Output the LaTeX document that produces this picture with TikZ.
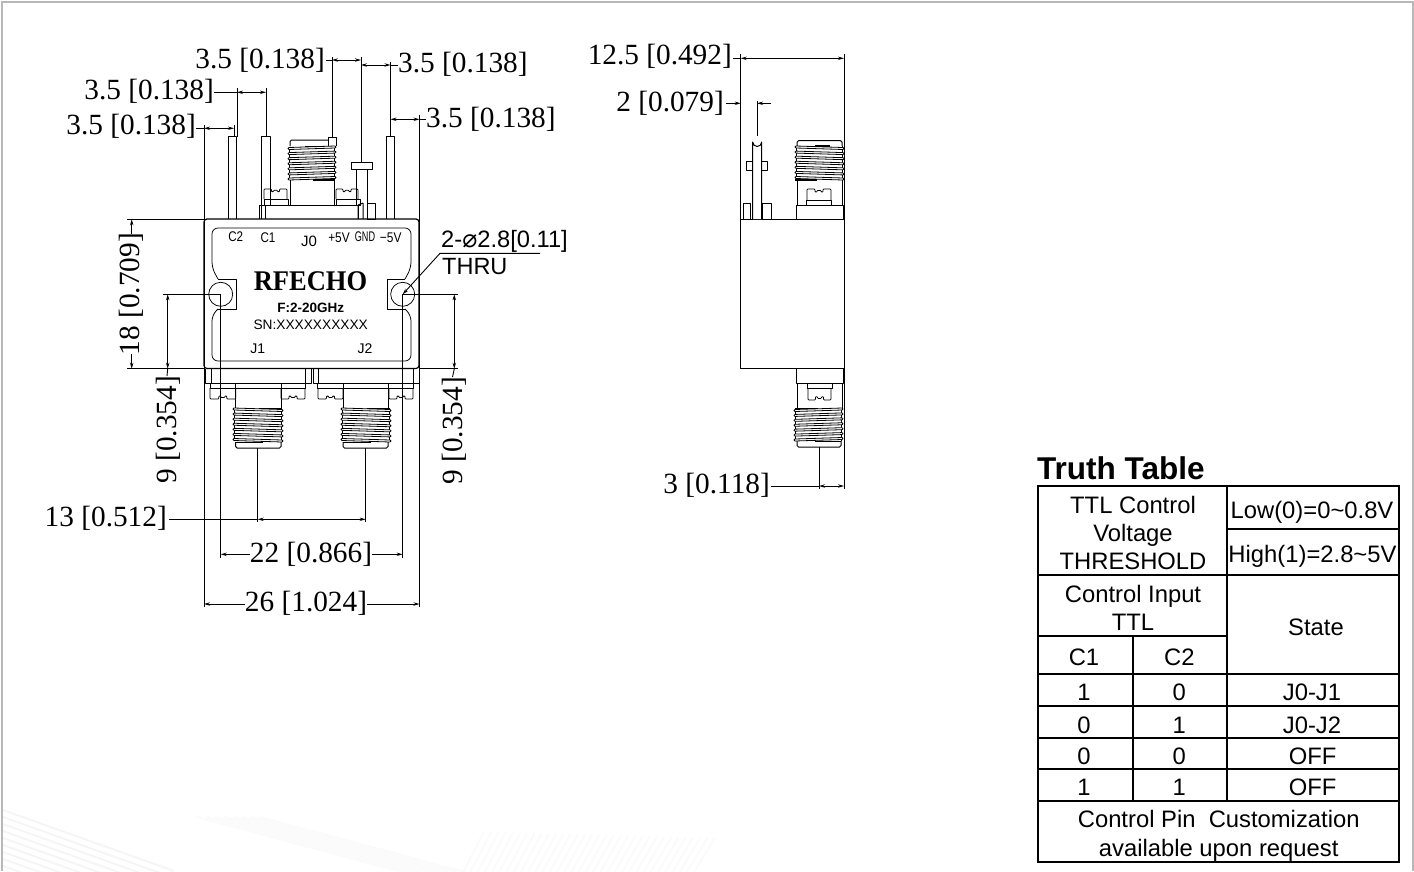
\documentclass[tikz,border=0pt]{standalone}
\usepackage{fontspec}
\setmainfont{Liberation Serif}
\newfontfamily\arialf{Liberation Sans}
\newfontfamily\dejaf{DejaVu Sans}
\usetikzlibrary{arrows.meta}
\tikzset{
  part/.style={draw=black,line width=1pt,line join=round},
  thinpart/.style={draw=black,line width=.75pt,line join=round},
  thrline/.style={draw=black,line width=.8pt,line join=round},
  extl/.style={draw=black,line width=1pt},
  dimh/.style={draw=black,line width=.9pt,{Stealth[length=6pt,width=3.4pt]}-{Stealth[length=6pt,width=3.4pt]}},
  dimr/.style={draw=black,line width=.9pt,-{Stealth[length=6pt,width=3.4pt]}},
  leader/.style={draw=black,line width=.9pt},
  dimtxt/.style={inner sep=0pt,text height=19.6pt,text depth=0pt,font=\fontsize{29.3}{29}\selectfont},
  lbl/.style={inner sep=0pt,text height=10pt,text depth=0pt,font=\arialf\fontsize{14}{14}\selectfont},
  cell/.style={inner sep=0pt,text height=17pt,text depth=0pt,font=\arialf\fontsize{23.8}{23.5}\selectfont},
  tline/.style={draw=black,line width=2pt,line cap=rect},
  wm/.style={draw=black!4,line width=1.8pt},
  wmb/.style={draw=black!1.8,line width=1.6pt},
}
% thread: xl xr ytop ybot slant
\newcommand{\thrd}[5]{%
  \pgfmathsetmacro{\thp}{(#4-#3-2)/6}%
  \draw[thinpart] (#1+1.5,#3) -- (#1+1.5,#4) (#2-1.5,#3) -- (#2-1.5,#4);
  \foreach \ti in {0,...,6}{%
    \pgfmathsetmacro{\thy}{#3+\ti*\thp}%
    \draw[thrline,fill=white] (#1+1,\thy) -- (#2-1,\thy+#5) to[out=0,in=0,looseness=1.8] (#2-1,\thy+#5+2) -- (#1+1,\thy+2) to[out=180,in=180,looseness=1.8] cycle;
  }%
}
% notched nut: xl xr ynotch yother
\newcommand{\nutp}[4]{%
  \pgfmathsetmacro{\nm}{(#1+#2)/2}%
  \pgfmathsetmacro{\nd}{(#4-#3)*.28}%
  \draw[thinpart,rounded corners=.8pt] (#1,#4) -- (#1,#3) -- (\nm-4,#3) -- (\nm-4,#3+\nd) -- (\nm-2,#3+\nd) -- (\nm-2,#3+\nd*.45) -- (\nm+2,#3+\nd*.45) -- (\nm+2,#3+\nd) -- (\nm+4,#3+\nd) -- (\nm+4,#3) -- (#2,#3) -- (#2,#4);
}
\begin{document}
\begin{tikzpicture}[x=1pt,y=-1pt]
\useasboundingbox (0,0) rectangle (1414,871);
\fill[white] (0,0) rectangle (1414,871);
% watermark
\begin{scope}
\clip (3,3) rectangle (1412,871);
\foreach \k in {0,...,8}{\draw[wm] (3,810+\k*7) -- (174,871+\k*7);}
\foreach \k in {0,...,7}{\draw[wmb] (197+\k*9,817) -- (413+\k*9,875);}
\foreach \k in {0,...,32}{\draw[wmb] (459+\k*7.2,880) -- (484+\k*7.2,832+\k*0.2);}
\end{scope}
\draw[draw=black!28,line width=2.4pt] (2,871) -- (2,2) -- (1413,2) -- (1413,871);

%% ---------- front view: top connector and pins
\draw[part] (228.3,219) -- (228.3,136.7) -- (236.7,136.7) -- (236.7,219);
\draw[part] (261.7,219) -- (261.7,136.7) -- (270,136.7) -- (270,205);
\draw[part] (386,219) -- (386,136.7) -- (394.7,136.7) -- (394.7,219);
\draw[part] (259,219) -- (259,205) -- (358,205) -- (358,219);
\draw[part] (265,205) -- (265,219);
\draw[part] (358,205) -- (358,219) (363,203) -- (363,219) (358,205) -- (363,203);
\draw[part] (367,203) rectangle (375,219);
\draw[part] (351,162) rectangle (372,169);
\draw[part] (356,169) -- (356,205) (367,169) -- (367,219);
\draw[part] (290,205) -- (290,180) (334,180) -- (334,205);
\draw[part] (328,146) -- (328,137) -- (336,137) -- (336,146);
\draw[part,rounded corners=1.5pt] (290,146) -- (290,140) -- (328,140);
\thrd{288}{336}{147.5}{180}{-1.5}
\draw[line width=1.4pt] (305,146.3) -- (317,146.3) (313,180) -- (335,180);
\nutp{264}{287}{189}{199}
\draw[part] (264,199) rectangle (288,205);
\nutp{336}{358}{189}{199}
\draw[part] (336,199) rectangle (360,205);

%% ---------- front view: body
\draw[part,rounded corners=3pt,line width=1.2pt] (204,219) rectangle (419,368.5);
\draw[thinpart,rounded corners=6pt] (218,279) -- (212,268) -- (212,228) -- (411,228) -- (411,268) -- (405,279);
\draw[thinpart] (218,279) -- (236,279) -- (236,309) -- (218,309);
\draw[thinpart] (405,279) -- (387,279) -- (387,309) -- (405,309);
\draw[thinpart,rounded corners=6pt] (218,309) -- (212,315) -- (212,361) -- (411,361) -- (411,315) -- (405,309);
\draw[thinpart,fill=white] (220.7,294.3) circle (12);
\draw[thinpart,fill=white] (402.7,294.3) circle (12);
\node[lbl,xscale=.83] (lC2) at (235.7,236.7) {C2};
\node[lbl,xscale=.83] (lC1) at (268,237) {C1};
\node[lbl,font=\arialf\fontsize{15}{15}\selectfont] (lJ0) at (309,241) {J0};
\node[lbl,xscale=.85] (lP5) at (339,237) {+5V};
\node[lbl,xscale=.65] (lGND) at (365,236) {GND};
\node[lbl,xscale=.85] (lM5) at (390.7,237) {−5V};
\node[inner sep=0pt,text height=19pt,text depth=0pt,xscale=.93,font=\bfseries\fontsize{28.5}{28}\selectfont] (brand) at (310.5,280.5) {RFECHO};
\node[inner sep=0pt,text height=9.5pt,text depth=0pt,font=\arialf\bfseries\fontsize{13.5}{13}\selectfont] (freq) at (310.7,307.3) {F:2-20GHz};
\node[inner sep=0pt,text height=9.5pt,text depth=0pt,font=\arialf\fontsize{13.7}{13}\selectfont] (sn) at (310.7,325) {SN:XXXXXXXXXX};
\node[lbl] (lJ1) at (257.7,348) {J1};
\node[lbl] (lJ2) at (365,348) {J2};

%% ---------- front view: bottom connectors
\draw[part] (205,368.5) -- (205,383) -- (311,383) -- (311,368.5);
\draw[part] (313,368.5) -- (313,383) -- (419,383) -- (419,368.5);
\draw[part] (211,368.5) -- (211,383) (305,368.5) -- (305,383) (318,368.5) -- (318,383) (413,368.5) -- (413,383);
\draw[part] (210,383) -- (210,388) -- (305,388) -- (305,383);
\draw[part] (317,383) -- (317,388) -- (413,388) -- (413,383);
\nutp{210}{235.7}{399}{388}
\nutp{281}{305}{399}{388}
\nutp{318}{343}{399}{388}
\nutp{389}{413}{399}{388}
\draw[part] (235.7,383) -- (235.7,408) (281,383) -- (281,408);
\draw[part] (343,383) -- (343,408) (388,383) -- (388,408);
\thrd{233}{283}{408}{440.5}{1.5}
\thrd{341}{391}{408}{440.5}{1.5}
\draw[line width=1.4pt] (259,408.3) -- (281,408.3) (235,442.3) -- (263,442.3) (367,408.3) -- (389,408.3) (343,442.3) -- (371,442.3);
\draw[part,rounded corners=1.5pt] (235.7,442) -- (235.7,448) -- (281,448) -- (281,442);
\draw[part,rounded corners=1.5pt] (343,442) -- (343,448) -- (388,448) -- (388,442);

%% ---------- front view: dimensions
\coordinate (xA) at (204,607);
\coordinate (xB) at (419.5,607);
\draw[extl] (204,125) -- (xA);
\draw[extl] (419.5,115) -- (xB);
\draw[extl] (234,125) -- (234,136.7);
\draw[extl] (237,88) -- (237,136.7);
\draw[extl] (266,88) -- (266,136.7);
\draw[extl] (332,57) -- (332,137);
\draw[extl] (361,57) -- (361,162);
\draw[extl] (390.5,62) -- (390.5,136.7);

\node[dimtxt,anchor=east] (t1) at (325,59) {3.5 [0.138]};
\node[dimtxt,anchor=west] (t2) at (398,63) {3.5 [0.138]};
\node[dimtxt,anchor=east] (t3) at (214,90) {3.5 [0.138]};
\node[dimtxt,anchor=east] (t4) at (196,125) {3.5 [0.138]};
\node[dimtxt,anchor=west] (t5) at (426,118) {3.5 [0.138]};
\coordinate (d1a) at (332,60); \coordinate (d1b) at (361,60);
\draw[leader] (t1.east |- d1a) ++(1,0) -- (d1a);
\draw[dimh] (d1a) -- (d1b);
\coordinate (d2a) at (361,65); \coordinate (d2b) at (390.5,65);
\draw[dimh] (d2a) -- (d2b);
\draw[leader] (d2b) -- (t2.west |- d2b);
\coordinate (d3a) at (237,92.3); \coordinate (d3b) at (266,92.3);
\draw[leader] (t3.east |- d3a) -- (d3a);
\draw[dimh] (d3a) -- (d3b);
\coordinate (d4a) at (204,128.3); \coordinate (d4b) at (234,128.3);
\draw[leader] (t4.east |- d4a) -- (d4a);
\draw[dimh] (d4a) -- (d4b);
\coordinate (d5a) at (390.5,119.3); \coordinate (d5b) at (419.5,119.3);
\draw[dimh] (d5a) -- (d5b);
\draw[leader] (d5b) -- (t5.west |- d5b);

% 18
\draw[extl] (127,219.3) -- (204,219.3);
\draw[extl] (127,368.7) -- (204,368.7);
\node[dimtxt,rotate=90] (t18) at (130,294) {18 [0.709]};
\coordinate (d18a) at (131.7,219.3); \coordinate (d18b) at (131.7,368.7);
\draw[dimr] (131.7,234) -- (d18a);
\draw[dimr] (131.7,354) -- (d18b);
% 9 left
\draw[extl] (163,294.3) -- (220.7,294.3);
\coordinate (d9a) at (167.7,294.3); \coordinate (d9b) at (167.7,368.7);
\draw[dimh] (d9a) -- (d9b);
\node[dimtxt,rotate=90,anchor=east] (t9l) at (167,376) {9 [0.354]};
\draw[leader] (d9b) -- (t9l.east);
% 9 right
\draw[extl] (402.7,294.3) -- (458,294.3);
\draw[extl] (419.5,368.7) -- (458,368.7);
\coordinate (d9c) at (454.3,294.3); \coordinate (d9d) at (454.3,368.7);
\draw[dimh] (d9c) -- (d9d);
\node[dimtxt,rotate=90,anchor=east] (t9r) at (452.5,377) {9 [0.354]};
\draw[leader] (d9d) -- (t9r.east);

% 13
\draw[extl] (257.7,448) -- (257.7,522);
\draw[extl] (365.7,448) -- (365.7,522);
\node[dimtxt,anchor=east] (t13) at (167,516.7) {13 [0.512]};
\coordinate (d13a) at (257.7,519.3); \coordinate (d13b) at (365.7,519.3);
\draw[leader] (t13.east |- d13a) ++(2,0) -- (d13a);
\draw[dimh] (d13a) -- (d13b);
% 22
\draw[extl] (220.7,294.3) -- (220.7,557.7);
\draw[extl] (402.7,294.3) -- (402.7,557.7);
\node[dimtxt] (t22) at (311,553) {22 [0.866]};
\coordinate (d22a) at (220.7,554.3); \coordinate (d22b) at (402.7,554.3);
\draw[dimr] (t22.west |- d22a) -- (d22a);
\draw[dimr] (t22.east |- d22b) -- (d22b);
% 26
\node[dimtxt] (t26) at (306,601.7) {26 [1.024]};
\coordinate (d26a) at (204,604); \coordinate (d26b) at (419.5,604);
\draw[dimr] (t26.west |- d26a) -- (d26a);
\draw[dimr] (t26.east |- d26b) -- (d26b);
% hole callout
\node[inner sep=0pt,anchor=west,text height=17pt,text depth=0pt,font=\arialf\fontsize{23.7}{23.5}\selectfont] (hole) at (441,238.5) {2-{\dejaf\fontsize{25}{25}\selectfont ⌀}2.8[0.11]};
\node[inner sep=0pt,anchor=west,text height=17pt,text depth=0pt,font=\arialf\fontsize{23.5}{23.5}\selectfont] (thru) at (442,266) {THRU};
\coordinate (hc) at (402.7,294.3);
\coordinate (hk) at (440,253.3);
\coordinate (he) at (540,253.3);
\draw[leader,{Stealth[length=6pt,width=3.4pt]}-] (hc) -- (hk) -- (he);

%% ---------- side view
\draw[part] (740.7,54) -- (740.7,368) -- (844,368);
\draw[part] (844,54) -- (844,489);
\draw[part] (740.7,219.3) -- (844,219.3);
\draw[part] (743,219) rectangle (750.7,203);
\draw[part] (762.3,219) rectangle (771,203);
\draw[part,fill=white] (746.7,161.7) rectangle (767.7,170);
\draw[part,fill=white] (752.7,219) -- (752.7,142) arc[start angle=180,end angle=0,radius=4.5] -- (761.7,219);
% side connector top
\draw[part,rounded corners=1.5pt] (797,146) -- (797,140.7) -- (842,140.7) -- (842,146);
\draw[part] (797,180) -- (797,205) (842,180) -- (842,205);
\thrd{795}{844}{146}{178.5}{1.5}
\draw[line width=1.4pt] (795,180) -- (817,180) (815,146) -- (830,146);
\nutp{807}{831}{189}{200}
\draw[part] (806.5,200) rectangle (831.5,205);
\draw[part] (796,205) rectangle (843,219);
% side connector bottom
\draw[part] (796,368) rectangle (843,383);
\draw[part] (807,383) -- (807,388) -- (832,388) -- (832,383);
\nutp{808}{831}{400}{388}
\draw[part] (797,383) -- (797,408) (842,383) -- (842,408);
\thrd{794}{843}{409.5}{441}{-1.5}
\draw[line width=1.4pt] (795,408.3) -- (818,408.3) (815,441.5) -- (841,441.5);
\draw[part,rounded corners=1.5pt] (797,441) -- (797,447) -- (841,447) -- (841,441);
% side dimensions
\draw[extl] (757,101) -- (757,136);
\draw[extl] (819,447) -- (819,489);
\node[dimtxt,anchor=east] (t125) at (732,55) {12.5 [0.492]};
\node[dimtxt,anchor=east] (t2d) at (724,101.7) {2 [0.079]};
\node[dimtxt,anchor=east] (t3d) at (770,484) {3 [0.118]};
\coordinate (s1a) at (740.7,58.3); \coordinate (s1b) at (844,58.3);
\draw[leader] (t125.east |- s1a) ++(1,0) -- (s1a);
\draw[dimh] (s1a) -- (s1b);
\coordinate (s2a) at (740.7,103.3); \coordinate (s2b) at (757,103.3);
\coordinate (s2c) at (771,103.3);
\draw[dimr] (t2d.east |- s2a) ++(2,0) -- (s2a);
\draw[dimr] (s2c) -- (s2b);
\coordinate (s3a) at (819,486); \coordinate (s3b) at (844,486);
\draw[leader] (t3d.east |- s3a) ++(1,0) -- (s3a);
\draw[dimh] (s3a) -- (s3b);

%% ---------- truth table
\node[inner sep=0pt,anchor=west,text height=22pt,text depth=0pt,font=\arialf\bfseries\fontsize{31.5}{30}\selectfont] (ttitle) at (1037,468) {Truth Table};
\draw[tline] (1038.3,486) rectangle (1399,861.7);
\draw[tline] (1226.7,486) -- (1226.7,800.7);
\draw[tline] (1132.7,635.7) -- (1132.7,800.7);
\draw[tline] (1226.7,529) -- (1399,529);
\foreach \ry in {575,674,706,737.7,769.3,800.7}{\draw[tline] (1038.3,\ry) -- (1399,\ry);}
\draw[tline] (1038.3,635.7) -- (1226.7,635.7);
\node[cell] (c1) at (1133,505) {TTL Control};
\node[cell] (c2) at (1133,532.7) {Voltage};
\node[cell] (c3) at (1133,561) {THRESHOLD};
\node[cell] (c4) at (1312,510) {Low(0)=0\textasciitilde0.8V};
\node[cell] (c5) at (1312.5,554) {High(1)=2.8\textasciitilde5V};
\node[cell] (c6) at (1133,594) {Control Input};
\node[cell] (c7) at (1133,622) {TTL};
\node[cell] (c8) at (1316,627.3) {State};
\node[cell] (c9) at (1084,657.3) {C1};
\node[cell] (c10) at (1179.3,657.3) {C2};
\node[cell] (r1a) at (1084,692.3) {1};
\node[cell] (r1b) at (1179.3,692.3) {0};
\node[cell] (r1c) at (1312,692.3) {J0-J1};
\node[cell] (r2a) at (1084,725) {0};
\node[cell] (r2b) at (1179.3,725) {1};
\node[cell] (r2c) at (1312,725) {J0-J2};
\node[cell] (r3a) at (1084,755.7) {0};
\node[cell] (r3b) at (1179.3,755.7) {0};
\node[cell] (r3c) at (1312.7,755.7) {OFF};
\node[cell] (r4a) at (1084,787.3) {1};
\node[cell] (r4b) at (1179.3,787.3) {1};
\node[cell] (r4c) at (1312.7,787.3) {OFF};
\node[cell] (c11) at (1218.7,819) {Control Pin\ \ Customization};
\node[cell] (c12) at (1218.7,847.7) {available upon request};
\end{tikzpicture}
\end{document}
